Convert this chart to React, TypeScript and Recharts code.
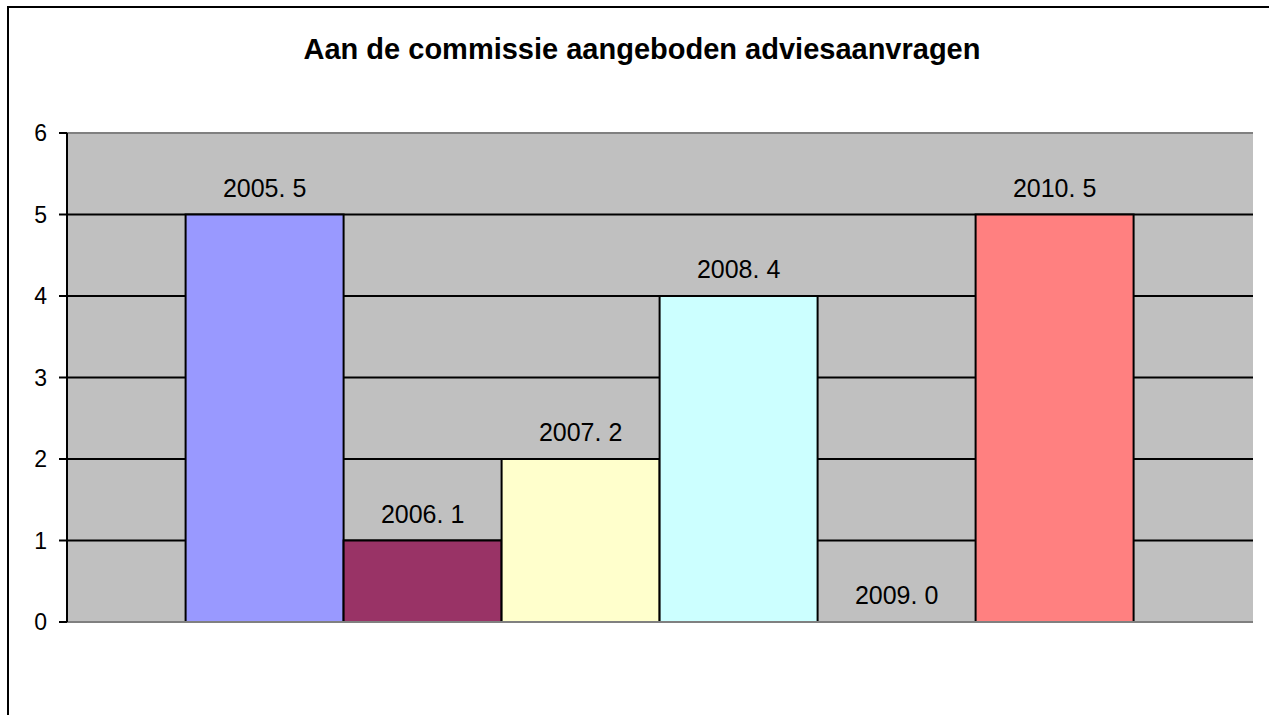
import { BarChart, Bar, XAxis, YAxis, CartesianGrid, LabelList, ReferenceLine } from 'recharts';

const years = ['2005', '2006', '2007', '2008', '2009', '2010'];
const counts = [5, 1, 2, 4, 0, 5];
const yTicks = [0, 1, 2, 3, 4, 5, 6];
const gridValues = [1, 2, 3, 4, 5];
const colors = ['#9999FF', '#993366', '#FFFFCC', '#CCFFFF', '#660066', '#FF8080'];

const row: Record<string, string | number> = { name: 'adviesaanvragen' };
years.forEach((y, i) => {
    row[y] = counts[i];
});
const data = [row];

const FONT = '"Liberation Sans", Arial, sans-serif';

export default function App() {
    return (
        <div style={{ position: 'relative', width: 1269, height: 715, overflow: 'hidden', background: '#fff', fontFamily: FONT }}>
            <style>{'body{margin:0;overflow:hidden}'}</style>
            <div
                style={{
                    position: 'absolute',
                    left: 7,
                    top: 6,
                    width: 1300,
                    height: 760,
                    borderTop: '2px solid #000',
                    borderLeft: '2px solid #000'
                }}
            />
            <div
                style={{
                    position: 'absolute',
                    left: 0,
                    top: 33,
                    width: 1284,
                    textAlign: 'center',
                    fontSize: 29,
                    fontWeight: 'bold',
                    lineHeight: '32px',
                    color: '#000'
                }}
            >
                Aan de commissie aangeboden adviesaanvragen
            </div>
            <div style={{ position: 'absolute', left: 0, top: 0 }}>
                <BarChart
                    width={1269}
                    height={715}
                    data={data}
                    margin={{ top: 133, right: 16, bottom: 93, left: 0 }}
                    barGap={0}
                    barCategoryGap="10%"
                >
                    <CartesianGrid
                        vertical={false}
                        fill="#C0C0C0"
                        fillOpacity={1}
                        stroke="#000"
                        strokeWidth={2}
                        horizontalValues={gridValues}
                    />
                    <XAxis dataKey="name" hide />
                    <YAxis
                        domain={[0, 6]}
                        ticks={yTicks}
                        width={67}
                        tickSize={8}
                        tickMargin={12}
                        axisLine={{ stroke: '#000', strokeWidth: 2 }}
                        tickLine={{ stroke: '#000', strokeWidth: 2 }}
                        tick={{ fill: '#000', fontSize: 23, fontFamily: FONT }}
                        interval={0}
                    />
                    <YAxis
                        yAxisId="r"
                        orientation="right"
                        domain={[0, 6]}
                        width={0}
                        tick={false}
                        tickLine={false}
                        axisLine={{ stroke: '#808080', strokeWidth: 2 }}
                    />
                    <ReferenceLine y={6} stroke="#808080" strokeWidth={2} />
                    <ReferenceLine y={0} stroke="#808080" strokeWidth={2} />
                    {years.map((y, i) => (
                        <Bar
                            key={y}
                            dataKey={y}
                            fill={counts[i] === 0 ? 'transparent' : colors[i]}
                            stroke={counts[i] === 0 ? 'none' : '#000'}
                            strokeWidth={2}
                            minPointSize={counts[i] === 0 ? 0.01 : 0}
                            isAnimationActive={false}
                        >
                            <LabelList
                                dataKey={y}
                                position="top"
                                offset={18}
                                formatter={(v: any) => `${y}. ${v}`}
                                style={{ fill: '#000', fontSize: 25, fontFamily: FONT }}
                            />
                        </Bar>
                    ))}
                </BarChart>
            </div>
        </div>
    );
}
